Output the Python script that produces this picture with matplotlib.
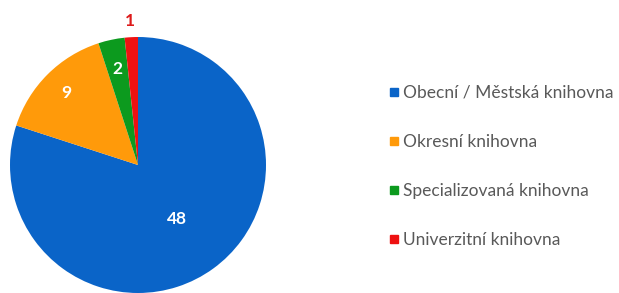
import matplotlib
matplotlib.use("Agg")
import matplotlib.pyplot as plt
from matplotlib.lines import Line2D
import numpy as np

# library types and counts
categories = ["Obecní / Městská knihovna", "Okresní knihovna",
              "Specializovaná knihovna", "Univerzitní knihovna"]
counts = [48, 9, 2, 1]
colors = ["#0a64c8", "#ff9a0a", "#0c9a1e", "#ee1111"]
label_colors = ["white", "white", "white", "#dd1a1a"]
label_dist = [0.52, 0.79, 0.77, 1.13]

plt.rcParams['font.family'] = ['Lato', 'DejaVu Sans']

fig = plt.figure(figsize=(6.19, 2.93), dpi=100)
ax = fig.add_axes([10 / 619, 0, 256 / 619, 256 / 293])

wedges, _ = ax.pie(counts, colors=colors, startangle=90, counterclock=False,
                   radius=1, wedgeprops=dict(linewidth=0))
ax.set_xlim(-1, 1)
ax.set_ylim(-1, 1)
ax.set_aspect('equal')
ax.axis('off')

for w, n, c, d in zip(wedges, counts, label_colors, label_dist):
    ang = np.deg2rad((w.theta1 + w.theta2) / 2)
    ax.text(d * np.cos(ang), d * np.sin(ang), str(n), color=c,
            fontsize=12.5, fontweight='bold', ha='center', va='center')

handles = [Line2D([], [], marker='s', linestyle='none', color=c, markersize=6)
           for c in colors]
fig.legend(handles, categories, loc='upper left', bbox_to_anchor=(383 / 619, 1 - 78 / 293),
           frameon=False, fontsize=12.5, labelcolor='#595959', handlelength=0.5,
           handletextpad=0.25, labelspacing=1.9, borderaxespad=0)

fig.savefig("out.png", dpi=100)
